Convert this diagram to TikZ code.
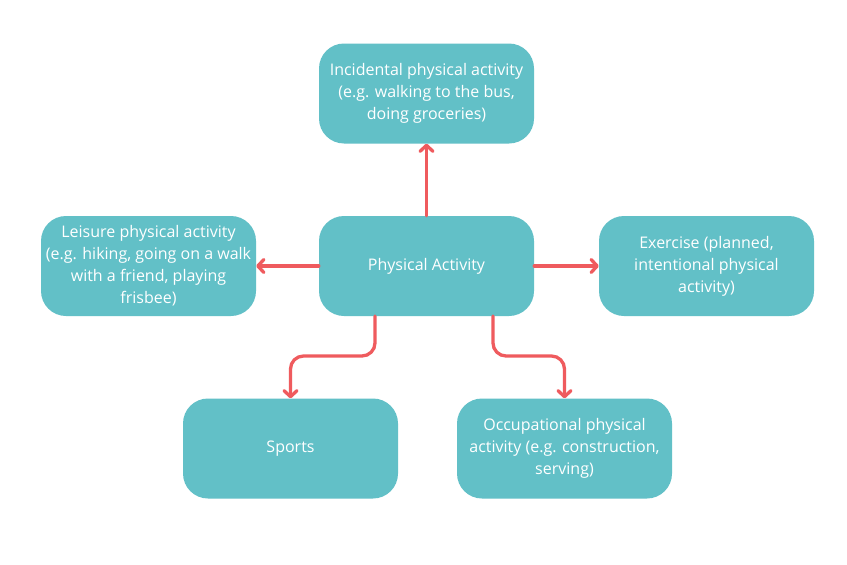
\documentclass[tikz,border=0pt]{standalone}
\usepackage{fontspec}
\setmainfont{Open Sans}
\usetikzlibrary{arrows.meta}
\definecolor{boxteal}{HTML}{62C0C7}
\definecolor{arrred}{HTML}{EF5B5E}
\tikzset{
  actbox/.style={rectangle, rounded corners=25pt, fill=boxteal, text=white,
    minimum width=215pt, minimum height=100pt, align=center,
    font=\fontsize{16}{22}\selectfont},
  actarrow/.style={arrred, line width=3.3pt, line cap=round,
    -{Straight Barb[length=6pt,width=13pt,line width=3.3pt,round]}}
}
\begin{document}
\begin{tikzpicture}[x=1pt,y=-1pt]
\useasboundingbox[fill=white] (0,0) rectangle (847,565);
\node[actbox] (pa) at (426.5,266){Physical Activity};
\node[actbox] (inc) at (426.5,93.5){Incidental physical activity\\(e.g. walking to the bus,\\doing groceries)};
\node[actbox] (lei) at (148.5,266){Leisure physical activity\\(e.g. hiking, going on a walk\\with a friend, playing\\frisbee)};
\node[actbox] (exe) at (706.5,266){Exercise (planned,\\intentional physical\\activity)};
\node[actbox] (spo) at (290.5,448.5){Sports};
\node[actbox] (occ) at (564.5,448.5){Occupational physical\\activity (e.g. construction,\\serving)};
\coordinate (spo0) at (375,316);
\coordinate (occ0) at (493,316);
\draw[actarrow] (pa) -- (inc);
\draw[actarrow] (pa) -- (lei);
\draw[actarrow] (pa) -- (exe);
\draw[actarrow, rounded corners=13pt] (spo0) |- (333,356) -| (spo.north);
\draw[actarrow, rounded corners=13pt] (occ0) |- (530,356) -| (occ.north);

\end{tikzpicture}
\end{document}
